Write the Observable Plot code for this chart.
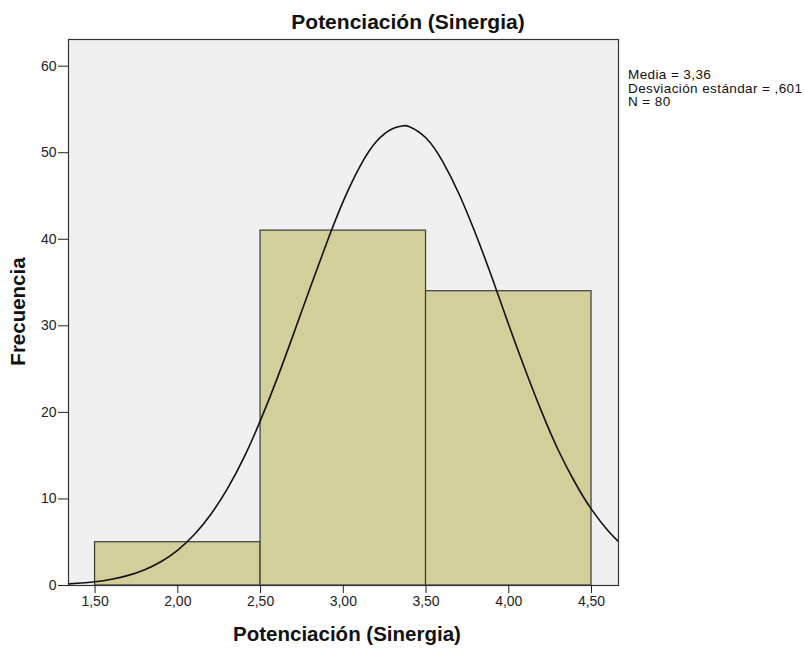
<!DOCTYPE html>
<html>
<head>
<meta charset="utf-8">
<script src="https://cdn.jsdelivr.net/npm/d3@7"></script>
<script src="https://cdn.jsdelivr.net/npm/@observablehq/plot@0.6"></script>
<style>
  body { margin: 0; background: #fff; }
  #chart svg { font-family: "Liberation Sans", Arial, sans-serif; }
  #chart g[aria-label="x-axis tick label"] text,
  #chart g[aria-label="y-axis tick label"] text { font-size: 14px; fill: #222; }
</style>
</head>
<body>
<div id="chart"></div>
<script>
// Histogram bins and frequencies
const binStart = [1.5, 2.5, 3.5];
const binEnd = [2.5, 3.5, 4.5];
const freq = [5, 41, 34];

// Normal curve
const curveX = [1.34, 1.5, 1.6, 1.7, 1.8, 1.9, 2.0, 2.1, 2.2, 2.3, 2.4, 2.5, 2.6, 2.7, 2.8, 2.9, 3.0, 3.1, 3.2, 3.3, 3.36, 3.4, 3.5, 3.6, 3.7, 3.8, 3.9, 4.0, 4.1, 4.2, 4.3, 4.4, 4.5, 4.6, 4.66];
const curveY = [0.19, 0.44, 0.73, 1.17, 1.83, 2.78, 4.1, 5.89, 8.24, 11.2, 14.8, 19.1, 23.9, 29.1, 34.4, 39.6, 44.4, 48.4, 51.3, 52.8, 53.1, 53.0, 51.7, 49.0, 45.2, 40.6, 35.5, 30.1, 24.9, 20.0, 15.6, 11.9, 8.79, 6.32, 5.12];

// Tick labels
const xTicks = [1.5, 2.0, 2.5, 3.0, 3.5, 4.0, 4.5];
const yTicks = [0, 10, 20, 30, 40, 50, 60];

const titleText = "Potenciación (Sinergia)";
const xLabel = "Potenciación (Sinergia)";
const yLabel = "Frecuencia";
const statLines = ["Media = 3,36", "Desviación estándar = ,601", "N = 80"];

const bars = binStart.map((s, i) => ({x1: s, x2: binEnd[i], y: freq[i]}));
const curve = curveX.map((x, i) => ({x, y: curveY[i]}));

const fmt = d => d.toFixed(2).replace(".", ",");

const chart = Plot.plot({
  width: 804,
  height: 649,
  marginLeft: 68,
  marginRight: 186,
  marginTop: 39,
  marginBottom: 64,
  style: {background: "#ffffff"},
  x: {domain: [1.3395, 4.663]},
  y: {domain: [0, 63.08]},
  marks: [
    Plot.frame({fill: "#f0f0f0"}),
    Plot.rectY(bars, {x1: "x1", x2: "x2", y: "y", fill: "#d3cf9a", stroke: "#3a3a3a", strokeWidth: 1.2}),
    Plot.line(curve, {x: "x", y: "y", curve: "natural", stroke: "#111", strokeWidth: 1.6}),
    Plot.frame({stroke: "#333", strokeWidth: 1.2}),
    Plot.axisX({ticks: xTicks, tickFormat: fmt, tickSize: 8, tickPadding: 3, stroke: "#222", label: null}),
    Plot.axisY({ticks: yTicks, tickSize: 10, tickPadding: 2, stroke: "#222", label: null})
  ]
});

const svg = d3.select(chart);
svg.append("text")
  .attr("x", 408).attr("y", 29)
  .attr("text-anchor", "middle")
  .style("font-size", "21px").style("font-weight", "bold").style("fill", "#111")
  .text(titleText);
svg.append("text")
  .attr("x", 347).attr("y", 641)
  .attr("text-anchor", "middle")
  .style("font-size", "20.5px").style("font-weight", "bold").style("fill", "#111")
  .text(xLabel);
svg.append("text")
  .attr("transform", "translate(25,311.5) rotate(-90)")
  .attr("text-anchor", "middle")
  .style("font-size", "20.5px").style("font-weight", "bold").style("fill", "#111")
  .text(yLabel);
const st = svg.append("text")
  .attr("x", 628).attr("y", 79)
  .attr("text-anchor", "start")
  .style("font-size", "13.5px").style("letter-spacing", "0.4px").style("fill", "#111");
statLines.forEach((t, i) => st.append("tspan").attr("x", 628).attr("dy", i === 0 ? 0 : 13.5).text(t));

document.getElementById("chart").appendChild(chart);
</script>
</body>
</html>
